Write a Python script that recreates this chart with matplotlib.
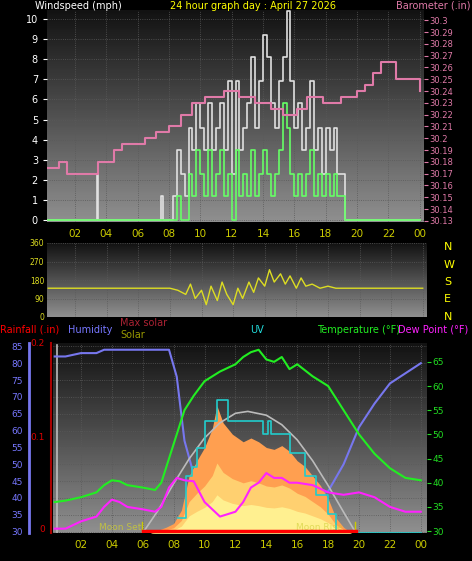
import numpy as np
import matplotlib.pyplot as plt

# ---- data ----
wind_t = [0.3, 3.4, 3.45, 3.5, 7.5, 7.55, 7.6, 8.25, 8.5, 8.75, 9.0, 9.25, 9.5, 9.75, 10.0, 10.25,
          10.5, 10.75, 11.0, 11.25, 11.5, 11.75, 12.0, 12.25, 12.5, 12.75, 13.0, 13.25, 13.5,
          13.75, 14.0, 14.25, 14.5, 14.75, 15.0, 15.25, 15.5, 15.75, 16.0, 16.25, 16.5, 16.75,
          17.0, 17.25, 17.5, 17.75, 18.0, 18.25, 18.5, 18.75, 19.0, 19.25, 24.0]
gust = [0, 2.3, 2.3, 0, 1.2, 1.2, 0, 1.2, 3.5, 2.3, 1.2, 4.6, 3.5, 5.8, 4.6, 3.5,
        5.8, 3.5, 4.6, 5.8, 3.5, 6.9, 2.3, 6.9, 3.5, 4.6, 5.8, 8.1, 4.6,
        6.9, 9.2, 8.1, 5.8, 4.6, 6.9, 8.1, 10.4, 6.9, 4.6, 5.8, 3.5, 4.6,
        6.9, 3.5, 4.6, 2.3, 4.6, 3.5, 4.6, 2.3, 2.3, 0, 0]
wind_avg = [0, 0, 0, 0, 0, 0, 0, 0, 1.2, 0, 0, 2.3, 1.2, 3.5, 2.3, 1.2,
            3.5, 1.2, 2.3, 3.5, 1.2, 2.3, 0, 3.5, 1.2, 2.3, 1.2, 3.5, 1.2,
            2.3, 3.5, 2.3, 1.2, 2.3, 3.5, 5.8, 4.6, 2.3, 1.2, 2.3, 1.2, 2.3,
            3.5, 1.2, 2.3, 1.2, 2.3, 1.2, 2.3, 1.2, 1.2, 0, 0]

baro_t = [0.3, 1.0, 1.5, 3.0, 3.5, 4.0, 4.5, 5.0, 6.5, 7.2, 8.0, 8.8, 9.5, 10.3, 11.5, 12.5,
          13.5, 14.5, 15.3, 15.6, 16.2, 16.8, 17.8, 18.5, 19.0, 20.0, 20.5, 21.0, 21.5, 22.0,
          22.5, 23.5, 24.0]
baro = [30.175, 30.18, 30.17, 30.17, 30.18, 30.18, 30.19, 30.195, 30.2, 30.205, 30.21, 30.22,
        30.23, 30.235, 30.24, 30.235, 30.23, 30.225, 30.22, 30.22, 30.225, 30.235, 30.23, 30.23,
        30.235, 30.24, 30.245, 30.255, 30.265, 30.265, 30.25, 30.25, 30.24]

dir_t = [0.3, 4.0, 7.0, 8.0, 8.5, 9.0, 9.3, 9.6, 10.0, 10.3, 10.6, 11.0, 11.3, 11.6, 12.0,
         12.3, 12.6, 13.0, 13.3, 13.6, 14.0, 14.3, 14.6, 15.0, 15.3, 15.6, 16.0, 16.3, 16.6,
         17.0, 17.5, 18.0, 18.5, 19.0, 20.0, 24.0]
wind_dir = [140, 140, 140, 140, 130, 110, 160, 90, 130, 60, 150, 80, 170, 110, 60,
            140, 90, 170, 120, 190, 150, 230, 170, 210, 160, 200, 140, 190, 150,
            160, 140, 150, 140, 140, 140, 140]

hours = [0.3, 1, 2, 3, 3.5, 4, 4.5, 5, 6, 6.8, 7.2, 7.7, 8.2, 8.7, 9.3, 10, 11, 12, 12.5, 13,
         13.5, 14, 14.5, 15, 15.5, 16, 17, 18, 19, 20, 21, 22, 23, 24]
temp = [36, 36.3, 37, 38, 39.5, 40.5, 40.3, 39.5, 39, 38.5, 40, 45, 50, 55, 58, 61, 63, 64.5, 66,
        67, 67.5, 65.5, 65, 66, 63.5, 64.5, 62, 60, 55, 50, 46, 43, 41, 40.5]
humidity = [82, 82, 83, 83, 84, 84, 84, 84, 84, 84, 84, 84, 76, 57, 47, 39, 35, 33, 33, 33,
            35, 40, 39, 39, 39, 39, 40, 42, 50, 61, 68, 74, 77, 80]
dewpoint = [30.5, 30.5, 32, 33, 35, 36.5, 36, 35, 34.5, 34, 35, 39, 41, 40.5, 40.3, 36, 33, 34,
            36, 39, 40, 42, 41, 41, 40, 40, 39.5, 38, 37.5, 38, 37, 35, 34, 34]

solar_t = [6.5, 7.5, 8.0, 8.5, 9.0, 9.5, 10.0, 10.5, 10.8, 11.2, 11.8, 12.5, 13.0, 13.5, 14.0,
           14.5, 15.0, 15.5, 16.0, 16.5, 17.0, 17.5, 18.0, 18.5, 19.0, 19.5]
solar = [0.0, 0.03, 0.05, 0.12, 0.3, 0.38, 0.45, 0.55, 0.67, 0.58, 0.52, 0.48, 0.5, 0.48, 0.45,
         0.44, 0.46, 0.43, 0.38, 0.35, 0.3, 0.25, 0.18, 0.08, 0.03, 0.0]
maxsolar_t = [6.0, 7.0, 8.0, 9.0, 10.0, 11.0, 12.0, 12.8, 14.0, 15.0, 16.0, 17.0, 18.0, 19.0, 19.8]
maxsolar = [0.0, 0.12, 0.26, 0.39, 0.5, 0.58, 0.63, 0.64, 0.62, 0.57, 0.49, 0.38, 0.25, 0.11, 0.0]
uv_t = [8.3, 8.8, 9.2, 9.5, 10.0, 10.8, 11.5, 13.8, 14.1, 14.3, 14.6, 15.5, 16.5, 17.2, 18.0, 18.5, 24]
uv = [0.08, 0.3, 0.35, 0.45, 0.59, 0.7, 0.59, 0.52, 0.59, 0.52, 0.52, 0.42, 0.3, 0.2, 0.1, 0.0, 0.0]

W, H = 472, 561
fig = plt.figure(figsize=(W / 100, H / 100), dpi=100, facecolor='black')


def panel(x0, y0, x1, y1):
    ax = fig.add_axes([x0 / W, 1 - y1 / H, (x1 - x0) / W, (y1 - y0) / H])
    ax.set_facecolor('black')
    grad = np.linspace(0, 1, 100).reshape(-1, 1)
    ax.imshow(grad, aspect='auto', cmap='gray', vmin=-0.15, vmax=1.9,
              extent=(0, 1, 0, 1), transform=ax.transAxes, zorder=0, origin='upper')
    for s in ax.spines.values():
        s.set_visible(False)
    ax.grid(True, color='#5a5a5a', lw=0.6, ls=':')
    return ax


ticks = [2, 4, 6, 8, 10, 12, 14, 16, 18, 20, 22, 24]
tlabels = ['02', '04', '06', '08', '10', '12', '14', '16', '18', '20', '22', '00']

# ---- top: wind + barometer ----
ax1 = panel(47, 10, 424, 222)
ax1.set_xlim(0.22, 24.27)
ax1.set_ylim(-0.1, 10.45)
ax1.step(wind_t, gust, where='post', color='#e0e0e0', lw=1.2, zorder=3)
ax1.step(wind_t, wind_avg, where='post', color='#66ff66', lw=1.2, zorder=4)
ax1.set_xticks(ticks)
ax1.set_xticklabels(tlabels)
ax1.set_yticks(range(0, 11))
ax1.tick_params(axis='x', colors='#cccc00', labelsize=7.5, length=0, pad=5)
ax1.tick_params(axis='y', colors='white', labelsize=7, length=3)
ax1b = ax1.twinx()
ax1b.set_ylim(30.129, 30.3087)
ax1b.step(baro_t, baro, where='post', color='#e07aa8', lw=1.5)
bticks = np.round(np.arange(30.13, 30.305, 0.01), 2)
ax1b.set_yticks(bticks)
ax1b.set_yticklabels([f'{v:g}' for v in bticks])
ax1b.tick_params(axis='y', colors='#e07aa8', labelsize=6, length=3, pad=1)
for s in ax1b.spines.values():
    s.set_visible(False)
fig.text(35 / W, 1 - 6 / H, 'Windspeed (mph)', color='white', fontsize=7, va='center')
fig.text(253 / W, 1 - 6 / H, '24 hour graph day : April 27 2026', color='yellow', fontsize=7,
         va='center', ha='center')
fig.text(470 / W, 1 - 6 / H, 'Barometer (.in)', color='#e07aa8', fontsize=7, va='center', ha='right')

# ---- middle: wind direction ----
ax2 = panel(47, 243, 427, 317)
ax2.set_xlim(0.22, 24.27)
ax2.set_ylim(0, 360)
ax2.plot(dir_t, wind_dir, color='#dddd22', lw=1)
ax2.set_xticks(ticks)
ax2.set_xticklabels([])
ax2.tick_params(axis='x', length=0)
ax2.set_yticks([0, 90, 180, 270, 360])
ax2.set_yticklabels(['0', '90', '180', '270', '360'])
ax2.tick_params(axis='y', colors='#dddd22', labelsize=5.5, length=0, pad=2)
for i, c in enumerate('NWSEN'):
    fig.text(444 / W, 1 - (247 + i * 17.5) / H, c, color='yellow', fontsize=8, va='center')

# ---- bottom: temp/humidity/solar ----
ax3 = panel(53, 343, 427, 533)
ax3.set_xlim(0.19, 24.4)
ax3.set_ylim(29.6, 86)
ax3.set_xticks(ticks)
ax3.set_xticklabels(tlabels)
ax3.tick_params(axis='x', colors='#cccc00', labelsize=7.5, length=0, pad=5)
ax3.set_yticks(range(30, 86, 5))
ax3.tick_params(axis='y', colors='#7777ff', labelsize=6.5, length=0, pad=22)
ax3.axvline(0.45, color='#bbbbbb', lw=1.2, ymax=0.99)

sol = ax3.twinx()
sol.set_ylim(0, 1)
sol.set_yticks([])
sol.fill_between(solar_t, solar, color='#ff9f50', lw=0, zorder=2)
sol.fill_between(solar_t, [v * 0.55 for v in solar], color='#ffd070', lw=0, zorder=2)
sol.fill_between(solar_t, [v * 0.3 for v in solar], color='#fff090', lw=0, zorder=2)
sol.plot(maxsolar_t, maxsolar, color='#bbbbbb', lw=1.2, zorder=3)
sol.step(uv_t, uv, where='post', color='#22cccc', lw=1.2, zorder=3)
sol.plot([6.0, 19.8], [0.012, 0.012], color='red', lw=2.5, zorder=4)
sol.plot([5.95, 5.95], [0, 0.06], color='#cccc00', lw=1)
sol.plot([19.75, 19.75], [0, 0.06], color='#cccc00', lw=1)
sol.text(5.9, 0.03, 'Moon Set', color='#cccc33', fontsize=6.5, ha='right', va='center', alpha=0.8)
sol.text(17.4, 0.03, 'Moon Rise', color='#cccc33', fontsize=6.5, ha='center', va='center', alpha=0.6)

ax3.plot(hours, humidity, color='#7777ee', lw=1.5, zorder=5)
tax = ax3.twinx()
tax.set_ylim(29.6, 68.9)
tax.plot(hours, temp, color='#22ee22', lw=1.5, zorder=5)
tax.plot(hours, dewpoint, color='#ff22ff', lw=1.5, zorder=6)
tax.set_yticks(range(30, 66, 5))
tax.tick_params(axis='y', colors='#22dd22', labelsize=6.5, length=3, pad=1)
for a in (sol, tax):
    for s in a.spines.values():
        s.set_visible(False)

# rainfall axis and humidity axis bars
fig.add_artist(plt.Line2D([29 / W, 29 / W], [1 - 343 / H, 1 - 533 / H], color='#7777ee', lw=2))
fig.add_artist(plt.Line2D([51 / W, 51 / W], [1 - 343 / H, 1 - 533 / H], color='#aa0000', lw=1.5))
for lbl, yy in (('0', 530), ('0.1', 437), ('0.2', 344)):
    fig.text(45 / W, 1 - yy / H, lbl, color='#dd0000', fontsize=6.5, ha='right', va='center')

fig.text(0, 1 - 330 / H, 'Rainfall (.in)', color='red', fontsize=7, va='center')
fig.text(68 / W, 1 - 330 / H, 'Humidity', color='#7777ff', fontsize=7, va='center')
fig.text(120 / W, 1 - 323 / H, 'Max solar', color='#aa2233', fontsize=7, va='center')
fig.text(120 / W, 1 - 335 / H, 'Solar', color='#999900', fontsize=7, va='center')
fig.text(257 / W, 1 - 330 / H, 'UV', color='#22dddd', fontsize=7, va='center', ha='center')
fig.text(317 / W, 1 - 330 / H, 'Temperature (°F)', color='#22ee22', fontsize=7, va='center')
fig.text(468 / W, 1 - 330 / H, 'Dew Point (°F)', color='#ff22ff', fontsize=7, va='center', ha='right')

fig.savefig('out.png', dpi=100, facecolor='black')
